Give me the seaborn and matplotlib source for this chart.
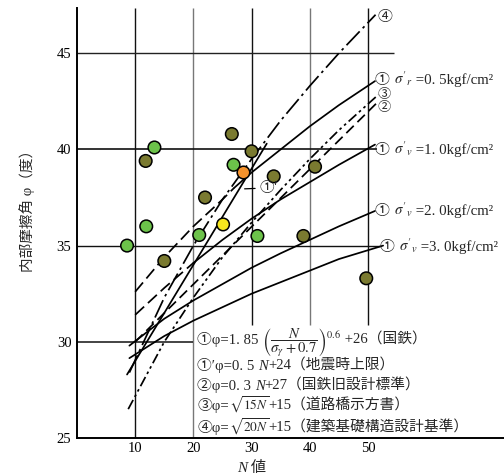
import matplotlib
matplotlib.use("Agg")
import matplotlib.pyplot as plt
import pandas as pd
import seaborn as sns

# ---------------- data ----------------
# ① curves  phi = 1.85 (N/(sv+0.7))^0.6 + 26
N_SIG05 = [10, 15, 20, 25, 27, 30, 35, 40, 45, 51.2]
PHI_SIG05 = [32.6, 34.4, 36.0, 37.4, 38.0, 38.8, 40.0, 41.2, 42.3, 43.55]
N_SIG10 = [10, 15, 20, 25, 30, 35, 40, 45, 51.2]
PHI_SIG10 = [31.4, 32.8, 34.1, 35.3, 36.4, 37.4, 38.3, 39.2, 40.25]
N_SIG20 = [9, 15, 20, 25, 30, 35, 40, 45, 51.2]
PHI_SIG20 = [29.8, 31.2, 32.15, 33.0, 33.85, 34.6, 35.3, 36.0, 36.8]
N_SIG30 = [9, 15, 20, 25, 30, 35, 40, 45, 52.6]
PHI_SIG30 = [29.15, 30.3, 31.1, 31.8, 32.5, 33.1, 33.7, 34.3, 35.0]
# ①' phi = 0.5N + 24
N_EQ1P = [8.6, 32.6]
PHI_EQ1P = [28.3, 40.3]
# ② phi = 0.3N + 27
N_EQ2 = [10, 51.8]
PHI_EQ2 = [30.0, 42.5]
# ③ phi = sqrt(15N) + 15
N_EQ3 = [8.8, 15, 20, 25, 30, 35, 40, 45, 51.8]
PHI_EQ3 = [26.5, 30.0, 32.3, 34.4, 36.2, 37.9, 39.5, 41.0, 42.85]
# ④ phi = sqrt(20N) + 15
N_EQ4 = [9, 15, 20, 25, 30, 35, 40, 45, 51.3]
PHI_EQ4 = [28.4, 32.3, 35.0, 37.4, 39.5, 41.5, 43.3, 45.0, 47.0]

# measured points
PT_N = [8.6, 13.3, 11.9, 21.0, 26.9, 31.0,
        11.8, 15.0, 22.0, 26.6, 30.0, 33.8, 38.9, 40.9, 49.7,
        28.6, 25.1]
PT_PHI = [35.0, 40.1, 36.0, 35.55, 39.2, 35.5,
          39.4, 34.2, 37.5, 40.8, 39.9, 38.6, 35.5, 39.1, 33.3,
          38.8, 36.1]
PT_KIND = ["green"] * 6 + ["olive"] * 9 + ["orange", "yellow"]

X_TICKS = [10, 20, 30, 40, 50]
Y_TICKS = [25, 30, 35, 40, 45]

# ---------------- style ----------------
W, H = 504, 476
sns.set_style("white")
plt.rcParams["font.family"] = ["Liberation Serif", "Noto Sans CJK JP", "DejaVu Sans"]
plt.rcParams["mathtext.fontset"] = "stix"

fig = plt.figure(figsize=(W / 100, H / 100), dpi=100)
AX_L, AX_B = 77, 38
ax = fig.add_axes([AX_L / W, AX_B / H, (W - AX_L) / W, 430 / H])
XPX, YPX = 5.82, 19.24
XMAX = (W - AX_L) / XPX
YTOP = 25 + 430 / YPX
ax.set_xlim(0, XMAX)
ax.set_ylim(25, YTOP)

for s in ["top", "right"]:
    ax.spines[s].set_visible(False)
for s in ["left", "bottom"]:
    ax.spines[s].set_color("black")
    ax.spines[s].set_linewidth(1.4)

# grid
ax.vlines([10, 20], 25, YTOP, colors=["#111111", "#777777"], lw=1.0, zorder=1)
ax.vlines([30, 40, 50], 30.85, YTOP, colors=["#111111", "#777777", "#111111"], lw=1.0, zorder=1)
ax.hlines(45, 0, 54.4, colors="#222222", lw=1.0, zorder=1)
ax.hlines(40, 0, 51.5, colors="#111111", lw=1.2, zorder=1)
ax.hlines(35, 0, 52.3, colors="#111111", lw=1.0, zorder=1)
ax.hlines(30, 0, 20, colors="#111111", lw=1.1, zorder=1)

# curves
def curve(ns, ps, ls, lw=1.25):
    df = pd.DataFrame({"N": ns, "phi": ps})
    sns.lineplot(data=df, x="N", y="phi", sort=False, estimator=None,
                 color="black", lw=lw, linestyle=ls, ax=ax, zorder=3)

DASH = (0, (7, 3))
curve(N_SIG05[:5], PHI_SIG05[:5], DASH)
curve(N_SIG05[4:], PHI_SIG05[4:], "-")
curve(N_SIG10[:3], PHI_SIG10[:3], DASH)
curve(N_SIG10[2:], PHI_SIG10[2:], "-")
curve(N_SIG20, PHI_SIG20, "-")
curve(N_SIG30, PHI_SIG30, "-")
curve(N_EQ1P, PHI_EQ1P, "-")
curve(N_EQ2, PHI_EQ2, (0, (6, 3)))
curve(N_EQ3, PHI_EQ3, (0, (6, 2, 1.5, 2, 1.5, 2)))
curve(N_EQ4, PHI_EQ4, (0, (11, 2.5, 1.5, 2.5)))

# points
pts = pd.DataFrame({"N": PT_N, "phi": PT_PHI, "kind": PT_KIND})
sns.scatterplot(data=pts, x="N", y="phi", hue="kind",
                palette={"green": "#6cc24a", "olive": "#7a7a30",
                         "orange": "#f4922c", "yellow": "#f6e71e"},
                s=82, edgecolor="black", linewidth=1.1, legend=False,
                ax=ax, zorder=6)

ax.set_xticks(X_TICKS)
ax.set_yticks(Y_TICKS)
ax.tick_params(length=0, labelsize=10.5, colors="black")
ax.tick_params(axis="x", pad=3)
ax.tick_params(axis="y", pad=4)
ax.set_xlabel("")
ax.set_ylabel("")

# ①' annotation
ax.annotate("①′", xy=(28.8, 37.95), xytext=(31.4, 38.0), fontsize=10.5,
            va="center", ha="left", family=["Noto Sans CJK JP"],
            arrowprops=dict(arrowstyle="-", lw=0.9, color="black",
                            shrinkA=1, shrinkB=0), zorder=7)

# ---------------- text helpers ----------------
rend = fig.canvas.get_renderer()

def put_row(x_px, base_px, pieces, size):
    x = x_px
    for s, kw in pieces:
        kw = dict(kw)
        fs = kw.pop("fs", size)
        t = fig.text(x / W, 1 - base_px / H, s, ha="left", va="baseline",
                     fontsize=fs, **kw)
        x += t.get_window_extent(rend).width

# right-side labels
RS = 10.7
put_row(377, 21, [("④", {})], RS)
put_row(375, 84, [("① ", {}), (r"$\sigma'_{r}$", {}), (" =0. 5kgf/cm²", {})], RS)
put_row(378, 98, [("③", {})], 9.5)
put_row(378, 111, [("②", {})], 9.5)
put_row(375, 154, [("① ", {}), (r"$\sigma'_{v}$", {}), (" =1. 0kgf/cm²", {})], RS)
put_row(375, 215, [("① ", {}), (r"$\sigma'_{v}$", {}), (" =2. 0kgf/cm²", {})], RS)
put_row(380, 251, [("① ", {}), (r"$\sigma'_{v}$", {}), (" =3. 0kgf/cm²", {})], RS)

# formula block
FS = 10.6
put_row(197, 344, [("①φ=1. 85 ", {}),
                   (r"$\left(\dfrac{N}{\sigma_{\gamma}+0.7}\right)^{0.6}$", {}),
                   (" +26（国鉄）", {})], FS)
put_row(197, 370, [("①′φ=0. 5 ", {}), ("N", {"style": "italic"}),
                   ("+24（地震時上限）", {})], FS)
put_row(197, 390, [("②φ=0. 3 ", {}), ("N", {"style": "italic"}),
                   ("+27（国鉄旧設計標準）", {})], FS)
put_row(197, 410, [("③φ=", {}), (r"$\sqrt{15N}$", {"fs": 9.6}),
                   ("+15（道路橋示方書）", {})], FS)
put_row(197, 432, [("④φ=", {}), (r"$\sqrt{20N}$", {"fs": 9.6}),
                   ("+15（建築基礎構造設計基準）", {})], FS)

# axis titles
put_row(237, 472, [("N", {"style": "italic"}), (" 値", {})], 11)
fig.text(27 / W, 1 - 207 / H, "内部摩擦角 φ（度）", rotation=90,
         ha="center", va="center", fontsize=10.5)

fig.savefig("out.png", dpi=100)
